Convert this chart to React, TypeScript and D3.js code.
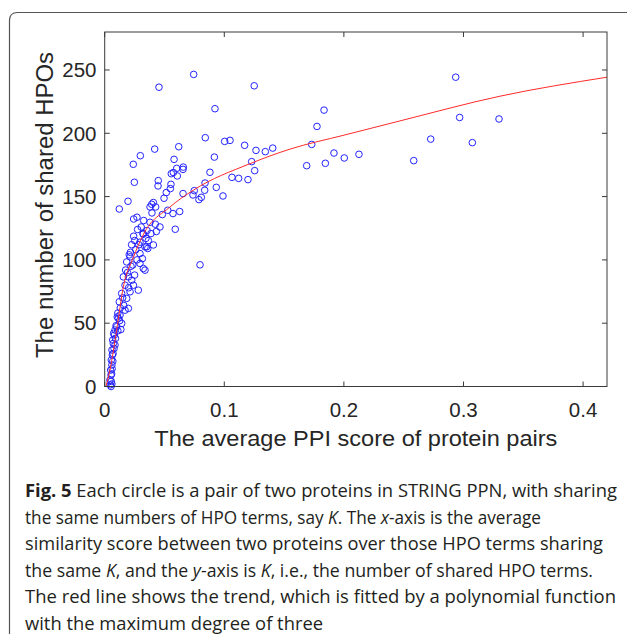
import React from 'react';
import * as d3 from 'd3';

const xTicks = [0, 0.1, 0.2, 0.3, 0.4];
const yTicks = [0, 50, 100, 150, 200, 250];
const xDomain = [0, 0.42];
const yDomain = [0, 280];

const xTitle = 'The average PPI score of protein pairs';
const yTitle = 'The number of shared HPOs';

// average PPI score of the pair (x) and number of shared HPO terms (y)
const pairScore = [
  0.0744, 0.0454, 0.125, 0.0922, 0.0841, 0.1003, 0.1048, 0.117, 0.1265, 0.1343,
  0.1405, 0.0619, 0.0418, 0.0298, 0.0239, 0.058, 0.0917, 0.1229, 0.1254, 0.0657,
  0.0655, 0.0602, 0.0557, 0.0607, 0.0574, 0.088, 0.1064, 0.112, 0.1198, 0.0248,
  0.0448, 0.0446, 0.0554, 0.0549, 0.0839, 0.0933, 0.0515, 0.0496, 0.0655, 0.0749,
  0.0738, 0.0788, 0.0808, 0.0836, 0.0989, 0.0122, 0.0195, 0.0393, 0.0407, 0.0379,
  0.0426, 0.0395, 0.0527, 0.0571, 0.0627, 0.0482, 0.0242, 0.027, 0.0326, 0.0379,
  0.0423, 0.0462, 0.0354, 0.0432, 0.059, 0.0323, 0.0242, 0.0387, 0.0251, 0.0295,
  0.0365, 0.0407, 0.0337, 0.036, 0.0797,
  0.1834, 0.1775, 0.1731, 0.1689, 0.1845, 0.1917, 0.2003, 0.2126, 0.2584, 0.2726,
  0.2935, 0.2968, 0.3074, 0.3297,
  0.032, 0.035, 0.0295, 0.0212, 0.0184, 0.0295, 0.0323, 0.0337, 0.0156, 0.0198,
  0.0226, 0.024, 0.0281, 0.0212, 0.0142, 0.0184, 0.0122, 0.0198, 0.017, 0.0128,
  0.0114, 0.0142, 0.01, 0.0086, 0.0081, 0.0067, 0.0086, 0.0061, 0.0064, 0.0055,
  0.006, 0.005, 0.0053, 0.0044, 0.0047, 0.0053,
  0.026, 0.022, 0.027, 0.019, 0.025, 0.017, 0.02, 0.015, 0.013, 0.016,
  0.011, 0.0125, 0.0095, 0.011, 0.009, 0.0075, 0.0078, 0.007, 0.0068, 0.0062,
  0.0058, 0.0055, 0.006, 0.0072, 0.0105, 0.0135, 0.0285, 0.0215, 0.0175, 0.0235,
  0.0305, 0.0345, 0.0275, 0.0225, 0.0205, 0.0315,
];
const sharedHPO = [
  246.5, 236.4, 237.5, 219.4, 196.5, 193.6, 194.4, 190.5, 186.5, 185.5,
  188.3, 189.4, 187.5, 182.3, 175.5, 179.4, 181.2, 177.6, 170.5, 173.3,
  171.5, 172.3, 168.1, 166.3, 169, 169.2, 165.2, 164.4, 163.4, 161.3,
  162.6, 158.4, 159.7, 156.3, 160.7, 157.3, 153.2, 148.7, 152.4, 154.7,
  151.3, 147.6, 149.4, 155, 150.5, 140.2, 146.3, 143.9, 145.3, 141.8,
  141.8, 137.1, 139.2, 136.6, 138.2, 135.8, 132.3, 133.7, 131.1, 129.7,
  128.2, 126, 123.2, 122.4, 124.2, 120.3, 118.7, 120.8, 115.3, 114,
  115.3, 111.8, 110.3, 109, 96.1,
  218.3, 205.4, 191.2, 174.4, 176.3, 184.4, 180.5, 183.4, 178.4, 195.4,
  244.3, 212.5, 192.6, 211.3,
  120.8, 110.3, 105, 102.4, 98.4, 97.2, 93.2, 91.9, 86.6, 86.6,
  84, 80, 76.1, 74.8, 73.5, 69.6, 66.9, 61.7, 60.3, 56.4,
  53.8, 49.8, 47.2, 44.6, 40.6, 36.7, 32.8, 28.8, 24.9, 20.9,
  17, 13, 9, 5.1, 1.3, 0,
  108, 95, 100, 90, 88, 80, 78, 70, 62, 64,
  58, 52, 48, 44, 38, 42, 30, 26, 20, 14,
  10, 4, 2, 34, 55, 45, 112, 106, 92, 96,
  126, 117, 124, 112, 104, 101,
];

// fitted trend (red line)
const trendScore = [0.001, 0.0044, 0.01, 0.0156, 0.024, 0.032, 0.0546, 0.074, 0.1215, 0.155, 0.2, 0.247, 0.3305, 0.42];
const trendHPO = [0, 13, 44.6, 78.7, 102, 119.5, 141.8, 155, 176, 187.5, 198.5, 209.8, 229.3, 244.3];

type Seg = { t: string; b?: boolean; i?: boolean };
const captionLines: Seg[][] = [
  [{ t: 'Fig. 5', b: true }, { t: ' Each circle is a pair of two proteins in STRING PPN, with sharing' }],
  [{ t: 'the same numbers of HPO terms, say ' }, { t: 'K', i: true }, { t: '. The ' }, { t: 'x', i: true }, { t: '-axis is the average' }],
  [{ t: 'similarity score between two proteins over those HPO terms sharing' }],
  [{ t: 'the same ' }, { t: 'K', i: true }, { t: ', and the ' }, { t: 'y', i: true }, { t: '-axis is ' }, { t: 'K', i: true }, { t: ', i.e., the number of shared HPO terms.' }],
  [{ t: 'The red line shows the trend, which is fitted by a polynomial function' }],
  [{ t: 'with the maximum degree of three' }],
];
const captionWidths = [592, 516, 578, 568, 591, 298];

export default function App() {
  const W = 627;
  const H = 634;
  const left = 104.7, right = 607, top = 32, bottom = 386.5;
  const x = d3.scaleLinear().domain(xDomain).range([left, right]);
  const y = d3.scaleLinear().domain(yDomain).range([bottom, top]);
  const pts = pairScore.map((v, i) => [v, sharedHPO[i]] as [number, number]);
  const trend = trendScore.map((v, i) => [v, trendHPO[i]] as [number, number]);
  const line = d3.line<[number, number]>().x(d => x(d[0])).y(d => y(d[1])).curve(d3.curveMonotoneX);
  const axisColor = '#3a3a3a';
  const textColor = '#262626';
  const tickLen = 5;
  const font = 'Liberation Sans, Arial, Helvetica, sans-serif';
  const capFont = '"Open Sans", "Noto Sans", sans-serif';

  return (
    <svg width={W} height={H} style={{ position: 'absolute', left: 0, top: 0, background: '#fff' }}>
      <rect x={0} y={0} width={W} height={H} fill="#fff" />
      {/* outer panel frame */}
      <path d={`M9.5,${H + 5} L9.5,20.5 Q9.5,12.5 17.5,12.5 L${W + 5},12.5`} fill="none" stroke="#555" strokeWidth={1.2} />

      <g>
        {pts.map((d, i) => (
          <circle key={i} cx={x(d[0])} cy={y(d[1])} r={3.3} fill="none" stroke="#2323ff" strokeWidth={1} />
        ))}
        <path d={line(trend) || ''} fill="none" stroke="#ff2a2a" strokeWidth={1} />
      </g>

      {/* box */}
      <rect x={left} y={top} width={right - left} height={bottom - top} fill="none" stroke={axisColor} strokeWidth={1} />
      {xTicks.map(t => (
        <g key={'xt' + t}>
          <line x1={x(t)} x2={x(t)} y1={bottom} y2={bottom - tickLen} stroke={axisColor} />
          <line x1={x(t)} x2={x(t)} y1={top} y2={top + tickLen} stroke={axisColor} />
          <text x={x(t)} y={416.5} textAnchor="middle" fontFamily={font} fontSize={20.5} fill={textColor}>{String(t)}</text>
        </g>
      ))}
      {yTicks.map(t => (
        <g key={'yt' + t}>
          <line x1={left} x2={left + tickLen} y1={y(t)} y2={y(t)} stroke={axisColor} />
          <line x1={right} x2={right - tickLen} y1={y(t)} y2={y(t)} stroke={axisColor} />
          <text x={96.5} y={y(t) + 7.3} textAnchor="end" fontFamily={font} fontSize={20.5} fill={textColor}>{String(t)}</text>
        </g>
      ))}
      <text x={(left + right) / 2} y={446} textAnchor="middle" fontFamily={font} fontSize={22} fill={textColor}
        textLength={403} lengthAdjust="spacingAndGlyphs">{xTitle}</text>
      <text transform={`translate(53,205) rotate(-90)`} textAnchor="middle" fontFamily={font} fontSize={23} fill={textColor}
        textLength={306} lengthAdjust="spacingAndGlyphs">{yTitle}</text>

      {captionLines.map((segs, li) => (
        <text key={li} x={25} y={497 + li * 26.6} fontFamily={capFont} fontSize={18} fill="#231f20"
          textLength={captionWidths[li]} lengthAdjust="spacingAndGlyphs">
          {segs.map((s, si) => (
            <tspan key={si} fontWeight={s.b ? 700 : 400} fontStyle={s.i ? 'italic' : 'normal'}>{s.t}</tspan>
          ))}
        </text>
      ))}
    </svg>
  );
}
